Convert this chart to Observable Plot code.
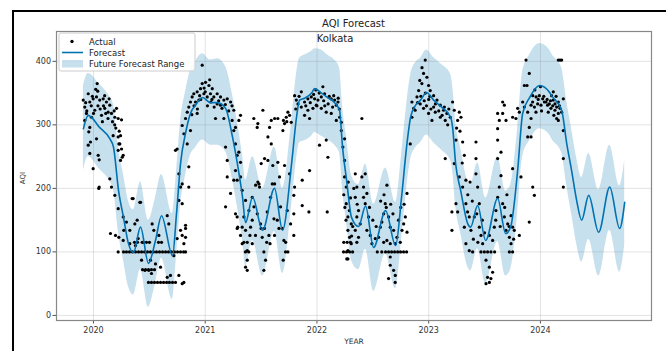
<!DOCTYPE html>
<html><head><meta charset="utf-8">
<script src="https://cdn.jsdelivr.net/npm/d3@7"></script>
<script src="https://cdn.jsdelivr.net/npm/@observablehq/plot@0.6"></script>
<style>
body{margin:0;background:#fff;}
#wrap{position:relative;width:666px;height:351px;overflow:hidden;font-family:"DejaVu Sans",sans-serif;background:#fff;}
#border{position:absolute;left:12px;top:10px;width:720px;height:420px;border-left:2px solid #000;border-top:2px solid #000;pointer-events:none;z-index:2;}
</style></head><body><div id="wrap"><div id="border"></div></div>
<script>
// Forecast: [decimal year, yhat, lower, upper]
const forecastPoints = [
[2019.910,294,228,362],[2019.953,315,250,381],[2020.054,296,230,364],[2020.143,279,212,345],
[2020.179,265,198,332],[2020.224,197,130,262],[2020.269,154,86,222],[2020.313,113,45,180],
[2020.358,99,32,166],[2020.421,139,72,210],[2020.492,82,13,150],[2020.555,118,50,185],
[2020.609,157,90,222],[2020.707,94,25,160],[2020.743,160,93,226],[2020.779,239,172,305],
[2020.824,287,220,352],[2020.868,318,252,386],[2020.913,331,264,400],[2020.976,343,276,412],
[2021.047,335,268,402],[2021.110,335,268,404],[2021.182,326,258,392],[2021.244,281,214,348],
[2021.298,228,160,294],[2021.334,186,118,252],[2021.361,146,78,213],[2021.424,186,118,250],
[2021.513,134,62,200],[2021.620,200,132,265],[2021.692,134,66,200],[2021.773,239,172,305],
[2021.817,312,245,380],[2021.844,339,272,405],[2021.889,342,275,410],[2021.952,350,282,416],
[2021.979,357,288,420],[2022.041,350,282,418],[2022.095,343,276,410],[2022.158,335,268,402],
[2022.202,323,256,390],[2022.229,265,198,330],[2022.265,213,146,280],[2022.310,154,86,220],
[2022.372,140,72,206],[2022.435,172,104,238],[2022.507,107,38,175],[2022.614,165,97,232],
[2022.704,110,42,178],[2022.757,186,118,252],[2022.802,265,198,330],[2022.838,312,245,378],
[2022.883,331,264,398],[2022.927,339,272,405],[2022.981,351,284,418],[2023.044,339,272,406],
[2023.116,328,260,395],[2023.196,312,244,380],[2023.214,296,228,362],[2023.241,239,172,305],
[2023.286,197,130,264],[2023.348,145,77,212],[2023.375,139,70,205],[2023.438,173,105,240],
[2023.510,118,50,185],[2023.617,184,116,250],[2023.689,129,62,196],[2023.733,139,72,205],
[2023.796,228,160,294],[2023.841,318,250,384],[2023.903,343,275,410],[2023.993,362,294,428],
[2024.082,351,284,418],[2024.100,346,278,412],[2024.190,323,256,390],[2024.235,271,204,338],
[2024.279,228,160,294],[2024.324,181,113,248],[2024.369,150,84,217],[2024.432,189,120,255],
[2024.521,131,62,198],[2024.620,202,134,268],[2024.709,137,68,204],[2024.754,178,110,244]
];

// Actual observations: [decimal year, AQI]
const actual2020 = [
[2020.033,365],[2019.953,349],[2019.908,339],[2019.922,328],[2019.967,336],[2019.997,341],[2020.027,344],[2020.056,339],
[2020.087,341],[2020.116,336],[2020.146,331],[2020.101,326],[2020.131,320],[2020.161,318],[2020.191,312],[2020.221,310],
[2020.251,308],[2020.206,326],[2019.937,318],[2019.922,307],[2019.982,312],[2020.012,323],[2020.072,315],[2019.967,296],
[2020.027,278],[2019.953,268],[2019.967,255],[2020.042,252],[2019.997,231],[2020.051,245],[2020.176,283],[2020.221,281],
[2020.236,270],[2020.251,262],[2020.221,260],[2020.266,252],[2020.242,244],[2020.051,202],[2020.146,215],[2020.161,202],
[2020.191,189],[2020.221,168],[2020.266,155],[2020.355,184],[2020.415,178],[2020.295,147],[2020.370,144],[2020.325,134],
[2020.400,121],[2020.266,118],[2020.325,113],[2020.221,100],[2020.430,87],[2020.460,71],[2020.519,66],
[2019.93,335],[2019.94,322],[2019.98,330],[2020.00,318],[2020.04,330],[2020.06,325],[2020.09,330],[2020.11,318],
[2020.13,310],[2020.17,305],[2020.19,300],[2020.08,305],[2019.99,345],[2020.02,356],[2020.10,346],[2020.14,341],
[2020.185,322],[2020.20,295],[2020.23,290],[2020.038,353],[2019.958,289],[2019.973,273],[2020.242,283],[2020.227,270],
[2020.257,249],
[2020.047,200],[2020.152,129],[2020.197,126],[2020.227,123],[2020.271,134],[2020.346,184],[2020.421,178],[2020.391,150],
[2020.436,115],[2020.376,110],[2020.525,144],[2020.540,134],[2020.585,126],[2020.510,87],[2020.555,81],[2020.600,76],
[2020.495,71],[2020.660,60],[2020.689,63],[2020.794,50],[2020.660,157],[2020.674,144],[2020.719,94],[2020.749,121],
[2020.779,134],[2020.764,181],[2020.794,176],[2020.779,202],[2020.824,123],[2020.824,137],[2020.853,202]
];
const actualRows2020 = [
[2020.269,100],[2020.295,100],[2020.322,100],[2020.349,100],[2020.376,100],[2020.403,100],[2020.430,100],[2020.457,100],
[2020.483,100],[2020.510,100],[2020.537,100],[2020.564,100],[2020.591,100],[2020.618,100],[2020.645,100],[2020.671,100],
[2020.698,100],[2020.725,100],[2020.752,100],[2020.779,100],[2020.806,100],[2020.824,100],
[2020.492,52],[2020.519,52],[2020.546,52],[2020.573,52],[2020.600,52],[2020.627,52],[2020.654,52],[2020.680,52],
[2020.707,52],[2020.734,52],
[2020.439,72],[2020.466,72],[2020.492,72],[2020.519,72],[2020.546,72],
[2020.367,115],[2020.394,115],[2020.448,115],[2020.474,115],[2020.501,115],[2020.582,115],[2020.609,115]
];
const actual2021 = [
[2020.749,262],[2020.764,223],[2020.794,207],[2020.809,286],[2020.839,270],[2020.853,234],[2020.824,310],[2020.839,320],
[2020.868,291],[2020.853,328],[2020.868,336],[2020.883,344],[2020.898,349],[2020.928,352],[2020.958,357],[2020.973,365],
[2021.003,367],[2021.033,362],[2021.063,357],[2020.988,349],[2021.018,344],[2021.047,349],[2021.077,344],[2021.107,349],
[2021.137,344],[2021.167,339],[2021.197,341],[2021.227,336],[2021.107,333],[2021.137,331],[2020.943,339],[2020.913,336],
[2020.973,394],[2021.092,310],[2021.167,310],[2021.256,323],[2021.241,307],[2021.271,296],[2021.256,291],[2021.301,307],
[2021.316,315],[2021.182,265],[2021.197,244],[2021.271,270],[2021.286,252],[2021.301,257],[2021.316,241],[2021.271,228],
[2021.286,213],[2021.316,218],[2021.331,197],[2021.182,171],[2021.197,218],[2021.361,181],[2021.346,155],[2021.391,165],
[2021.421,186],[2021.436,171],[2021.286,137],[2021.331,139],[2021.361,134],[2021.406,139],[2021.331,113],[2021.376,115],
[2021.421,113],[2021.376,87],[2021.376,71],[2020.794,126],[2020.809,113],[2020.824,142],[2020.764,63],[2020.809,52],
[2020.90,330],[2020.93,325],[2020.96,340],[2021.00,352],[2021.02,330],[2021.05,336],[2021.08,328],[2021.12,338],
[2021.15,326],[2021.18,332],[2021.21,322],[2021.24,330],[2020.99,358],[2021.04,371],[2021.06,340],[2020.88,316],
[2020.95,346],[2020.734,260],[2020.794,299],[2020.928,318],
[2021.227,192],[2021.256,213],[2021.271,160],[2021.286,155],[2021.291,139],[2021.316,126],[2021.346,115],[2021.376,102],
[2021.361,76],[2021.421,150],[2021.451,205],[2021.481,207],[2021.466,160],[2021.495,144],[2021.510,123],[2021.525,100],
[2021.540,87],[2021.525,71],[2021.555,163],[2021.585,186],[2021.600,207],[2021.570,126],[2021.615,152],[2021.645,150],
[2021.674,171],[2021.689,137],[2021.704,118],[2021.719,100],[2021.698,87],[2021.734,165],[2021.764,144],[2021.793,160],
[2021.793,189],[2021.793,126],[2021.868,213],[2021.868,173],[2021.928,163],[2022.092,163],
[2021.36,100],[2021.39,100],[2021.50,137],[2021.53,137],[2021.66,137],[2021.72,115],[2021.74,100],[2021.40,126],
[2021.45,126],[2021.62,126],[2021.55,115],[2021.58,113],
[2021.516,323],[2021.471,302],[2021.576,296],[2021.591,307],[2021.621,310],[2021.650,310],[2021.725,312],[2021.740,320],
[2021.755,315],[2021.710,302],[2021.770,304],[2021.695,291],[2021.561,281],[2021.591,270],[2021.531,247],[2021.561,244],
[2021.605,236],[2021.650,241],[2021.710,236],[2021.501,239],[2021.665,218],[2021.471,210],[2021.486,202],[2021.621,207],
[2021.755,223],[2021.800,202],[2021.934,228],[2022.023,268],[2022.098,249],[2022.083,276],[2021.435,310],[2021.465,296],
[2021.70,307],[2021.73,305]
];
const actual2022 = [
[2021.800,346],[2021.815,339],[2021.830,333],[2021.860,328],[2021.889,336],[2021.919,341],[2021.949,344],[2021.979,341],
[2022.009,339],[2022.039,344],[2022.068,349],[2022.053,360],[2022.128,341],[2022.158,339],[2022.188,336],[2022.173,331],
[2021.860,352],[2021.994,331],[2021.964,326],[2021.919,323],[2022.039,326],[2022.083,320],[2022.128,318],[2021.889,315],
[2021.934,310],[2022.173,307],[2022.203,312],[2022.218,304],[2022.218,291],[2022.232,265],[2022.247,244],[2022.247,218],
[2022.262,202],[2022.262,176],[2022.277,155],[2022.277,134],[2022.292,123],[2022.277,102],[2022.277,89],[2022.307,144],
[2022.307,113],[2022.247,278],
[2021.81,325],[2021.84,345],[2021.90,330],[2021.94,335],[2021.97,348],[2022.00,330],[2022.02,350],[2022.06,338],
[2022.10,333],[2022.11,345],[2022.14,328],[2022.15,346],[2022.20,325],[2022.19,342],[2021.99,355],[2022.07,330],
[2022.343,223],[2022.357,202],[2022.343,186],[2022.372,165],[2022.357,155],[2022.387,144],[2022.343,134],[2022.372,123],
[2022.357,115],[2022.402,218],[2022.417,202],[2022.432,223],[2022.417,186],[2022.432,176],[2022.447,192],[2022.462,155],
[2022.447,134],[2022.477,126],[2022.492,113],[2022.522,121],[2022.552,123],[2022.567,139],[2022.581,147],[2022.597,160],
[2022.626,205],[2022.611,176],[2022.641,155],[2022.656,139],[2022.656,113],[2022.626,118],[2022.597,115],[2022.686,134],
[2022.701,113],[2022.716,123],[2022.746,115],[2022.761,134],[2022.776,144],[2022.791,155],[2022.806,131],[2022.656,92],
[2022.656,79],[2022.641,58],[2022.701,63],[2022.686,71],[2022.806,192],[2022.402,310],[2022.267,89],[2022.70,52],
[2022.614,100],[2022.641,100],[2022.668,100],[2022.695,100],[2022.722,100],[2022.748,100],[2022.775,100],[2022.802,100],
[2022.238,100],[2022.265,100],[2022.292,100],[2022.319,100],[2022.24,115],[2022.27,115],[2022.30,115],
[2022.24,190],[2022.25,170],[2022.26,150],[2022.29,165],[2022.30,185],[2022.32,140],[2022.33,200],[2022.31,125],
[2022.28,210],[2022.36,175],[2022.47,170],[2022.50,150],[2022.53,140],[2022.57,180],[2022.60,190],[2022.62,170],
[2022.66,175],[2022.68,160],[2022.73,150],[2022.75,170],[2022.78,175],[2022.54,100],[2022.58,100]
];
const actual2023 = [
[2022.835,270],[2022.850,312],[2022.865,326],[2022.850,336],[2022.895,344],[2022.910,354],[2022.939,365],[2022.954,381],
[2022.969,402],[2022.984,375],[2022.999,362],[2023.014,354],[2023.044,346],[2023.074,339],[2023.104,331],[2023.133,323],
[2023.163,318],[2023.193,312],[2022.924,333],[2022.879,323],[2023.059,320],[2023.104,312],[2023.148,307],[2022.954,326],
[2022.999,318],[2023.029,307],[2023.044,328],[2023.148,247],[2023.208,134],[2023.208,163],
[2022.90,335],[2022.93,345],[2022.96,338],[2022.98,330],[2023.00,340],[2023.02,325],[2023.06,333],[2023.09,322],
[2023.12,315],[2023.14,328],[2023.17,300],[2023.18,325],[2022.94,390],[2022.92,370],[2022.97,350],[2023.01,345],
[2023.214,336],[2023.229,323],[2023.259,307],[2023.274,320],[2023.289,312],[2023.244,276],[2023.229,239],[2023.304,273],
[2023.319,252],[2023.274,218],[2023.304,202],[2023.333,213],[2023.244,176],[2023.259,163],[2023.333,176],[2023.348,163],
[2023.363,155],[2023.319,139],[2023.378,134],[2023.333,113],[2023.363,102],[2023.393,100],[2023.423,273],[2023.423,247],
[2023.423,223],[2023.438,202],[2023.453,176],[2023.408,155],[2023.453,139],[2023.468,126],[2023.483,113],[2023.468,100],
[2023.498,100],[2023.527,100],[2023.557,100],[2023.513,87],[2023.543,76],[2023.527,60],[2023.557,58],[2023.572,68],
[2023.513,50],[2023.543,52],[2023.543,126],[2023.572,118],[2023.587,139],[2023.602,165],[2023.617,186],[2023.632,202],
[2023.647,220],[2023.617,247],[2023.617,276],[2023.617,294],[2023.632,307],[2023.617,318],[2023.662,318],[2023.677,331],
[2023.662,336],[2023.692,307],[2023.647,257],[2023.662,176],[2023.677,155],[2023.692,134],[2023.707,144],[2023.722,123],
[2023.737,113],[2023.722,100],[2023.751,100],[2023.737,157],[2023.751,139],[2023.766,134],[2023.751,231],[2023.751,312],
[2023.781,310],[2023.796,326],[2023.811,320],[2023.826,218],[2023.811,126],
[2023.25,295],[2023.28,290],[2023.30,240],[2023.35,190],[2023.37,210],[2023.39,180],[2023.40,120],[2023.43,160],
[2023.44,115],[2023.48,150],[2023.50,130],[2023.59,100],[2023.60,150],[2023.64,140],[2023.68,170],[2023.70,190],
[2023.72,140],[2023.76,120]
];
const actual2024 = [
[2023.841,336],[2023.856,362],[2023.871,402],[2023.900,381],[2023.856,328],[2023.886,320],[2023.916,331],[2023.946,328],
[2023.975,333],[2024.005,331],[2024.035,336],[2024.064,331],[2024.094,326],[2023.931,346],[2023.961,344],[2023.990,346],
[2024.020,341],[2024.050,336],[2024.079,333],[2023.916,310],[2023.900,296],[2023.916,281],[2023.931,202],[2023.946,189],
[2023.900,147],[2023.886,281],[2023.88,362],
[2023.93,336],[2023.96,320],[2023.98,340],[2024.01,322],[2024.03,345],[2024.06,340],[2024.09,338],[2023.95,355],
[2024.00,360],[2024.07,320],
[2024.100,346],[2024.115,339],[2024.130,333],[2024.145,328],[2024.160,336],[2024.175,326],[2024.130,323],[2024.160,318],
[2024.145,310],[2024.160,307],[2024.115,352],[2024.205,341],[2024.205,291],[2024.205,247],[2024.205,202],[2024.160,402],
[2024.175,402],[2024.190,402],[2024.12,315],[2024.14,345],[2024.17,330],[2024.19,320],[2024.11,330]
];

const yTicks = [0, 100, 200, 300, 400];
const xTicks = [2020, 2021, 2022, 2023, 2024];
const titleText = "AQI Forecast";
const cityText = "Kolkata";
const legendLabels = ["Actual", "Forecast", "Future Forecast Range"];

const BLUE = "#0072B2";
const forecast = forecastPoints.map(([t, yhat, lo, hi]) => ({t, yhat, lo, hi}));
const actual = [...actual2020, ...actualRows2020, ...actual2021, ...actual2022, ...actual2023, ...actual2024]
  .map(([t, v]) => ({t, v}));

const plot = Plot.plot({
  width: 666, height: 351,
  marginLeft: 56, marginRight: 15, marginTop: 31, marginBottom: 31,
  style: {fontFamily: "DejaVu Sans, sans-serif", color: "#333", background: "transparent"},
  x: {type: "linear", domain: [2019.669, 2024.994]},
  y: {domain: [-8, 447]},
  marks: [
    Plot.areaY(forecast, {x: "t", y1: "lo", y2: "hi", fill: BLUE, fillOpacity: 0.22, curve: "monotone-x"}),
    Plot.gridY(yTicks, {stroke: "#808080", strokeOpacity: 0.22, strokeWidth: 1}),
    Plot.gridX(xTicks, {stroke: "#808080", strokeOpacity: 0.22, strokeWidth: 1}),
    Plot.dot(actual, {x: "t", y: "v", r: 1.6, fill: "#000", stroke: "none"}),
    Plot.line(forecast, {x: "t", y: "yhat", stroke: BLUE, strokeWidth: 1.6, curve: "monotone-x"}),
    Plot.axisY({ticks: yTicks, tickSize: 3.5, tickPadding: 2, fontSize: 8, label: null, stroke: "#555"}),
    Plot.axisX({ticks: xTicks, tickFormat: "d", tickSize: 3.5, tickPadding: 3, fontSize: 8, label: null, stroke: "#555"}),
    Plot.frame({stroke: "#888", strokeWidth: 1.2})
  ]
});

const svg = d3.select(plot);
svg.style("position", "absolute").style("left", "0px").style("top", "0px");
const ff = "DejaVu Sans, sans-serif";
function addText(x, y, s, size, anchor, fill) {
  return svg.append("text").attr("x", x).attr("y", y).attr("text-anchor", anchor)
    .attr("font-family", ff).attr("font-size", size).attr("fill", fill).text(s);
}
// Title & subtitle
addText(353.5, 26.5, titleText, 10, "middle", "#222");
addText(335, 41.5, cityText, 10, "middle", "#222");
// Axis labels
addText(354, 343.5, "YEAR", 7.5, "middle", "#333");
svg.append("text").attr("transform", "translate(25,178) rotate(-90)").attr("text-anchor", "middle")
  .attr("font-family", ff).attr("font-size", 7).attr("fill", "#333").text("AQI");
// Legend
const lg = svg.append("g");
lg.append("rect").attr("x", 59).attr("y", 33).attr("width", 136).attr("height", 38).attr("rx", 2)
  .attr("fill", "#fff").attr("fill-opacity", 0.85).attr("stroke", "#ccc").attr("stroke-width", 1);
lg.append("circle").attr("cx", 72).attr("cy", 41.5).attr("r", 1.7).attr("fill", "#000");
lg.append("line").attr("x1", 62).attr("x2", 83).attr("y1", 52.5).attr("y2", 52.5).attr("stroke", BLUE).attr("stroke-width", 1.6);
lg.append("rect").attr("x", 62).attr("y", 60).attr("width", 21).attr("height", 7.5).attr("fill", BLUE).attr("fill-opacity", 0.22);
legendLabels.forEach((s, i) => {
  lg.append("text").attr("x", 89).attr("y", [44.5, 55.5, 66.5][i]).attr("text-anchor", "start")
    .attr("font-family", ff).attr("font-size", 8.5).attr("fill", "#222").text(s);
});

document.getElementById("wrap").appendChild(plot);
</script>
</body></html>
